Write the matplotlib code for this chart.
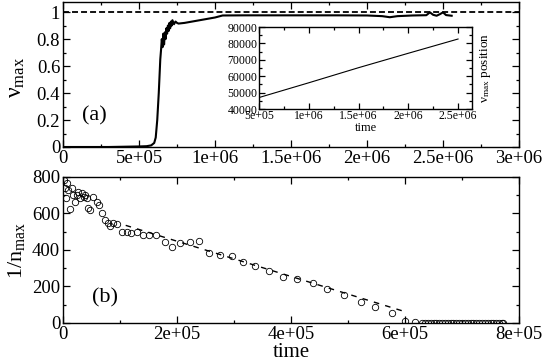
import matplotlib
matplotlib.use("Agg")
from matplotlib import pyplot as plt
from matplotlib.ticker import MultipleLocator, FuncFormatter

# panel (a): nu_max vs time
time_a = [0, 1e5, 2e5, 3e5, 4e5, 5e5, 5.5e5, 5.8e5, 6.0e5, 6.1e5, 6.2e5, 6.3e5,
          6.4e5, 6.45e5, 6.5e5, 6.55e5, 6.6e5, 6.65e5, 6.7e5, 6.75e5, 6.8e5,
          6.85e5, 6.9e5, 6.95e5, 7.0e5, 7.05e5, 7.1e5, 7.15e5, 7.2e5, 7.3e5,
          7.4e5, 7.5e5, 7.6e5, 8e5, 9e5, 1.0e6, 1.05e6, 1.2e6, 1.5e6, 1.8e6,
          2.0e6, 2.1e6, 2.15e6, 2.2e6, 2.3e6, 2.39e6, 2.414e6, 2.435e6,
          2.458e6, 2.48e6, 2.50e6, 2.52e6, 2.557e6]
nu_a = [0, 0, 0, 0, 0.002, 0.004, 0.006, 0.012, 0.03, 0.07, 0.2, 0.4,
        0.65, 0.72, 0.80, 0.74, 0.84, 0.76, 0.85, 0.80, 0.88,
        0.84, 0.90, 0.86, 0.92, 0.88, 0.93, 0.90, 0.94, 0.91,
        0.93, 0.92, 0.915, 0.92, 0.94, 0.96, 0.975, 0.976, 0.976, 0.976,
        0.975, 0.97, 0.962, 0.97, 0.975, 0.977, 0.998, 0.98,
        0.973, 0.985, 0.998, 0.978, 0.973]

# inset: nu_max position vs time
time_in = [5e5, 1e6, 1.5e6, 2e6, 2.5e6]
pos_in = [47000, 56000, 65200, 74000, 82700]

# panel (b): 1/n_max vs time
time_b = [1.7e3, 6.4e3, 3.5e3, 9.4e3, 5.3e3, 1.5e4, 1.8e4, 2.1e4, 2.4e4, 2.7e4,
          3.0e4, 3.3e4, 3.6e4, 3.9e4, 4.2e4, 1.2e4, 4.4e4, 4.7e4, 5.3e4, 5.9e4,
          6.4e4, 6.8e4, 7.4e4, 7.9e4, 8.2e4, 8.8e4, 9.4e4, 1.03e5, 1.12e5,
          1.2e5, 1.29e5, 1.41e5, 1.5e5, 1.64e5, 1.79e5, 1.91e5, 2.06e5,
          2.22e5, 2.39e5, 2.57e5, 2.75e5, 2.96e5, 3.15e5, 3.37e5, 3.61e5,
          3.86e5, 4.11e5, 4.38e5, 4.64e5, 4.93e5, 5.22e5, 5.48e5, 5.77e5,
          6.0e5, 6.17e5,
          6.30e5, 6.35e5, 6.40e5, 6.45e5, 6.50e5, 6.55e5, 6.60e5, 6.65e5,
          6.70e5, 6.75e5, 6.80e5, 6.85e5, 6.90e5, 6.95e5, 7.00e5, 7.05e5,
          7.10e5, 7.15e5, 7.20e5, 7.25e5, 7.30e5, 7.35e5, 7.40e5, 7.45e5,
          7.50e5, 7.55e5, 7.60e5, 7.65e5, 7.70e5, 7.72e5]
inv_n_b = [784, 765, 738, 729, 683, 738, 701, 665, 700, 720,
           683, 711, 692, 700, 683, 625, 630, 620, 692, 665,
           647, 601, 564, 546, 533, 550, 543, 500, 500,
           495, 500, 482, 482, 482, 446, 418, 440,
           442, 449, 382, 375, 365, 336, 315, 287,
           254, 243, 217, 186, 153, 117, 86, 53,
           13, 3,
           0, 0, 0, 0, 0, 0, 0, 0,
           0, 0, 0, 0, 0, 0, 0, 0,
           0, 0, 0, 0, 0, 0, 0, 0,
           0, 0, 0, 0, 0, 0]

# linear fit drawn over panel (b)
fit_t = [1.1e5, 6.0e5]
fit_v = [535, 62]


def grace_fmt(v, pos):
    if v == 0:
        return "0"
    if abs(v) < 1e4:
        return "%g" % v
    s = "%.1e" % v
    return s.replace(".0e", "e")


def style_axes(ax, major_len=5, minor_len=2.5):
    ax.tick_params(which="both", direction="in", top=True, right=True,
                   width=0.9)
    ax.tick_params(which="major", length=major_len)
    ax.tick_params(which="minor", length=minor_len)
    for sp in ax.spines.values():
        sp.set_linewidth(1.0)


def main():
    plt.rcParams["font.family"] = ["Liberation Serif", "DejaVu Serif"]
    plt.rcParams["mathtext.fontset"] = "custom"
    plt.rcParams["mathtext.rm"] = "Liberation Serif"
    plt.rcParams["mathtext.it"] = "Liberation Serif:italic"
    plt.rcParams["font.size"] = 13

    fig = plt.figure(figsize=(5.45, 3.61), dpi=100)

    # top panel
    ax1 = fig.add_axes([0.1156, 0.5928, 0.8367, 0.4017])
    ax1.plot(time_a, nu_a, color="black", lw=1.5)
    ax1.axhline(1.0, color="black", lw=1.3, dashes=(3.3, 1.7))
    ax1.set_xlim(0, 3e6)
    ax1.set_ylim(0, 1.075)
    ax1.xaxis.set_major_locator(MultipleLocator(5e5))
    ax1.xaxis.set_minor_locator(MultipleLocator(2.5e5))
    ax1.yaxis.set_major_locator(MultipleLocator(0.2))
    ax1.yaxis.set_minor_locator(MultipleLocator(0.1))
    ax1.xaxis.set_major_formatter(FuncFormatter(grace_fmt))
    ax1.yaxis.set_major_formatter(FuncFormatter(grace_fmt))
    style_axes(ax1)
    ax1.tick_params(labelsize=13.5, pad=2)
    ax1.set_ylabel(r"ν$_{\rm max}$", fontsize=17)
    ax1.yaxis.set_label_coords(-0.078, 0.48)
    ax1.text(0.042, 0.214, "(a)", transform=ax1.transAxes, fontsize=16,
             ha="left", va="center")

    # inset
    axi = fig.add_axes([0.4752, 0.698, 0.3908, 0.2271])
    axi.plot(time_in, pos_in, color="black", lw=0.8)
    axi.set_xlim(5e5, 2.64e6)
    axi.set_ylim(40000, 90000)
    axi.xaxis.set_major_locator(MultipleLocator(5e5))
    axi.xaxis.set_minor_locator(MultipleLocator(2.5e5))
    axi.yaxis.set_major_locator(MultipleLocator(10000))
    axi.yaxis.set_minor_locator(MultipleLocator(5000))
    axi.xaxis.set_major_formatter(FuncFormatter(grace_fmt))
    axi.yaxis.set_major_formatter(FuncFormatter(lambda v, p: "%d" % v))
    style_axes(axi, major_len=4, minor_len=2)
    axi.tick_params(labelsize=8.5, pad=1)
    axi.set_xlabel("time", fontsize=9, labelpad=0)
    axi.yaxis.set_label_position("right")
    axi.set_ylabel(r"ν$_{\rm max}$ position", fontsize=9.5, labelpad=4)

    # bottom panel
    ax2 = fig.add_axes([0.1156, 0.1053, 0.8367, 0.4044])
    ax2.plot(fit_t, fit_v, color="black", lw=1.0, dashes=(4, 4.5))
    ax2.plot(time_b, inv_n_b, linestyle="none", marker="o", markersize=4.6,
             markerfacecolor="none", markeredgecolor="black",
             markeredgewidth=0.6)
    ax2.set_xlim(0, 8e5)
    ax2.set_ylim(0, 800)
    ax2.xaxis.set_major_locator(MultipleLocator(2e5))
    ax2.xaxis.set_minor_locator(MultipleLocator(1e5))
    ax2.yaxis.set_major_locator(MultipleLocator(200))
    ax2.yaxis.set_minor_locator(MultipleLocator(100))
    ax2.xaxis.set_major_formatter(FuncFormatter(grace_fmt))
    ax2.yaxis.set_major_formatter(FuncFormatter(grace_fmt))
    style_axes(ax2)
    ax2.tick_params(labelsize=13.5, pad=2)
    ax2.set_ylabel(r"1/n$_{\rm max}$", fontsize=16)
    ax2.yaxis.set_label_coords(-0.078, 0.5)
    ax2.set_xlabel("time", fontsize=15, labelpad=0)
    ax2.text(0.064, 0.175, "(b)", transform=ax2.transAxes, fontsize=16,
             ha="left", va="center")

    fig.savefig("out.png", dpi=100)


if __name__ == "__main__":
    main()
